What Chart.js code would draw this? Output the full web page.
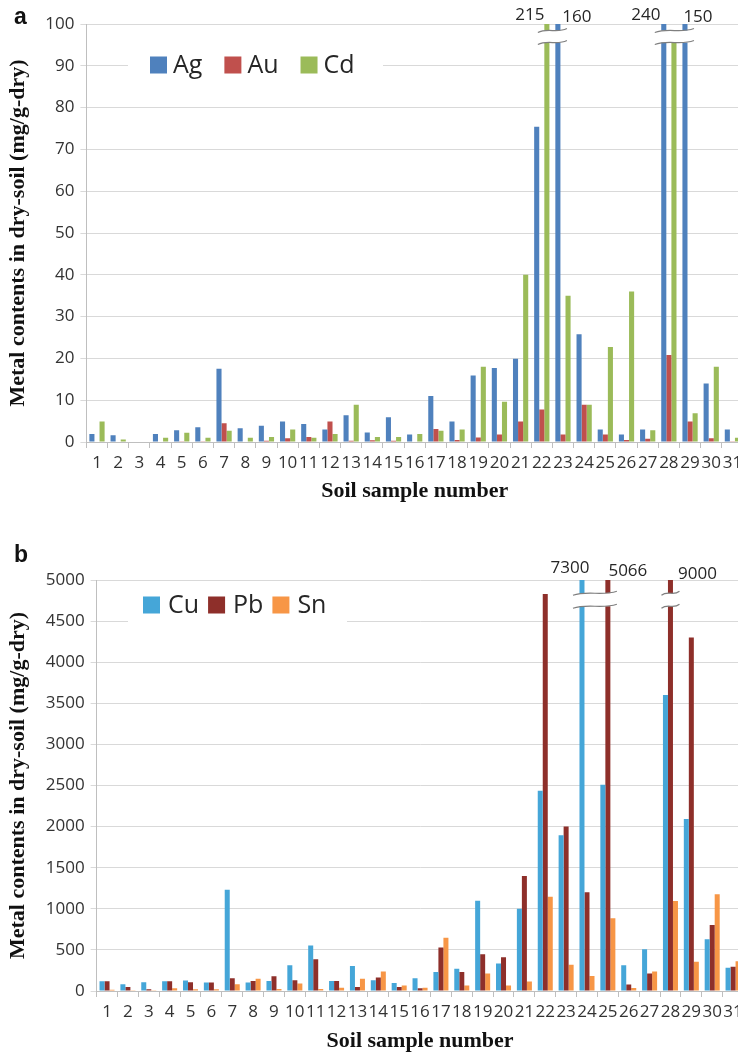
<!DOCTYPE html>
<html>
<head>
<meta charset="utf-8">
<script src="https://cdn.jsdelivr.net/npm/chart.js@4/dist/chart.umd.min.js"></script>
<style>
  body { margin: 0; width: 738px; height: 1054px; overflow: hidden; background: #fff; position: relative; }
  canvas { position: absolute; left: 0; }
  #chart-a { top: 0; }
  #chart-b { top: 510px; }
  .tag { position: absolute; font: bold 23px "Liberation Sans", Arial, sans-serif; line-height: 23px; color: #111; }
</style>
</head>
<body>
<canvas id="chart-a" width="750" height="510"></canvas>
<canvas id="chart-b" width="750" height="550"></canvas>
<div class="tag" style="left:14px; top:5px">a</div>
<div class="tag" style="left:14px; top:543px">b</div>
<script>
const samples = ['1','2','3','4','5','6','7','8','9','10','11','12','13','14','15','16',
                 '17','18','19','20','21','22','23','24','25','26','27','28','29','30','31']

// panel a (mg/g-dry)
const ag = [1.9, 1.6, 0, 1.9, 2.8, 3.5, 17.5, 3.3, 3.9, 4.9, 4.3, 3.0, 6.4, 2.3, 5.9, 1.8,
            11.0, 4.9, 15.9, 17.7, 19.9, 75.4, 160, 25.8, 3.0, 1.8, 3.0, 240, 150, 14.0, 3.0]
const au = [0, 0.1, 0, 0.1, 0.2, 0.2, 4.5, 0.1, 0.3, 0.9, 1.2, 4.9, 0.3, 0.4, 0.3, 0.1,
            3.1, 0.5, 1.1, 1.8, 4.9, 7.8, 1.8, 8.9, 1.8, 0.5, 0.8, 20.8, 4.9, 0.9, 0.2]
const cd = [4.9, 0.6, 0, 1.0, 2.2, 1.0, 2.7, 1.0, 1.2, 3.0, 1.0, 1.9, 8.9, 1.2, 1.2, 1.9,
            2.7, 3.0, 18.0, 9.6, 40.0, 215, 35.0, 8.9, 22.7, 36.0, 2.8, 96, 6.9, 18.0, 1.0]

// panel b (mg/g-dry)
const cu = [119, 82, 107, 119, 127, 102, 1232, 102, 123, 312, 553, 123, 303, 131, 98, 156,
            230, 271, 1099, 336, 1000, 2437, 1894, 7300, 2510, 312, 508, 3600, 2092, 631, 283]
const pb = [119, 49, 20, 119, 107, 102, 156, 123, 180, 131, 385, 123, 49, 164, 49, 33,
            529, 230, 447, 410, 1400, 4830, 2000, 1200, 5066, 78, 213, 9000, 4300, 804, 295]
const sn = [16, 8, 8, 33, 20, 20, 82, 148, 25, 90, 25, 41, 148, 238, 66, 41,
            648, 66, 213, 66, 115, 1147, 320, 184, 884, 37, 238, 1095, 357, 1176, 361]

const yTitle = 'Metal contents in dry-soil (mg/g-dry)'
const xTitle = 'Soil sample number'

const tickFont = { family: '"Open Sans", sans-serif', size: 17 }
const titleFont = { family: '"Liberation Serif", "Times New Roman", serif', size: 22, weight: 'bold' }

// white legend box sitting on the top gridlines
const boxLegend = {
  id: 'boxLegend',
  afterDatasetsDraw(chart, args, opts) {
    const { ctx, chartArea } = chart
    const x = chartArea.left + opts.dx, yc = chartArea.top + opts.dy
    ctx.save()
    ctx.fillStyle = '#fff'
    ctx.fillRect(x, yc - opts.h / 2, opts.w, opts.h)
    ctx.font = '25px "Open Sans", sans-serif'
    ctx.textBaseline = 'middle'
    let cx = x + opts.pad
    chart.data.datasets.forEach(ds => {
      ctx.fillStyle = ds.backgroundColor
      ctx.fillRect(cx, yc - 8.5, 17, 17)
      cx += 17 + opts.gapIn
      ctx.fillStyle = '#262626'
      ctx.fillText(ds.label, cx, yc + 1)
      cx += ctx.measureText(ds.label).width + opts.gapOut
    })
    ctx.restore()
  }
}

// axis break marks + real values for bars above the scale max
const breakMarks = {
  id: 'breakMarks',
  afterDatasetsDraw(chart, args, opts) {
    const { ctx, chartArea, scales: { y } } = chart
    const bars = []
    chart.data.datasets.forEach((ds, di) => {
      const meta = chart.getDatasetMeta(di)
      ds.data.forEach((v, i) => {
        if (v > y.max) bars.push({ x: meta.data[i].x, v })
      })
    })
    bars.sort((p, q) => p.x - q.x)
    const groups = []
    bars.forEach(b => {
      const g = groups[groups.length - 1]
      if (g && b.x - g.x1 < 35) g.x1 = b.x
      else groups.push({ x0: b.x, x1: b.x })
    })
    const yc = y.getPixelForValue(opts.at)
    ctx.save()
    groups.forEach(g => {
      const l = g.x0 - opts.pad, r = g.x1 + opts.pad, w = r - l
      ctx.fillStyle = '#fff'
      ctx.fillRect(l, yc - opts.gap / 2, w, opts.gap)
      ctx.strokeStyle = '#7f7f7f'
      ctx.lineWidth = 1.2
      ;[-opts.gap / 2, opts.gap / 2].forEach(dy => {
        ctx.beginPath()
        ctx.moveTo(l, yc + dy + 2)
        ctx.bezierCurveTo(l + w / 3, yc + dy - 3, l + 2 * w / 3, yc + dy + 3, r, yc + dy - 2)
        ctx.stroke()
      })
    })
    ctx.fillStyle = '#262626'
    ctx.font = '17px "Open Sans", sans-serif'
    ctx.textAlign = 'center'
    ctx.textBaseline = 'middle'
    bars.forEach((b, k) => {
      const [dx, dy] = opts.shift[k] || [0, -10]
      ctx.fillText(String(b.v), b.x + dx, chartArea.top + dy)
    })
    ctx.restore()
  }
}

function makeChart(id, series, colors, names, yMax, yStep, axisW, pad, legend, brk) {
  return new Chart(document.getElementById(id), {
    type: 'bar',
    data: {
      labels: samples,
      datasets: series.map((s, i) => ({
        label: names[i],
        data: s,
        backgroundColor: colors[i],
        categoryPercentage: 0.72,
        barPercentage: 1.0,
        clip: 0
      }))
    },
    options: {
      responsive: false,
      animation: false,
      layout: { padding: pad },
      plugins: {
        legend: { display: false },
        tooltip: { enabled: false },
        boxLegend: legend,
        breakMarks: brk
      },
      scales: {
        x: {
          grid: { offset: true, drawOnChartArea: false, tickLength: 6, color: '#bfbfbf' },
          border: { color: '#bfbfbf' },
          ticks: { font: tickFont, color: '#333', autoSkip: false, maxRotation: 0, minRotation: 0, padding: 5 },
          title: { display: true, text: xTitle, font: titleFont, color: '#111', padding: { top: 0, bottom: 5 } },
          afterFit: s => { s.height = pad.xh }
        },
        y: {
          min: 0, max: yMax,
          grid: { color: '#d9d9d9', tickLength: 6 },
          border: { color: '#bfbfbf' },
          ticks: { stepSize: yStep, font: tickFont, color: '#333', padding: 6, callback: v => String(v) },
          title: { display: true, text: yTitle, font: titleFont, color: '#111', padding: { top: 5, bottom: 0 } },
          afterFit: s => { s.width = axisW }
        }
      }
    },
    plugins: [boxLegend, breakMarks]
  })
}

makeChart('chart-a', [ag, au, cd], ['#4f81bd', '#c0504d', '#9bbb59'], ['Ag', 'Au', 'Cd'],
  100, 10, 86.4, { top: 24, right: 7, bottom: 0, left: 0, xh: 68 },
  { dx: 41.6, dy: 41, w: 255, h: 40, pad: 22, gapIn: 6, gapOut: 22 },
  { at: 97, gap: 12, pad: 9, shift: [[-17, -9], [19, -7], [-18, -9], [13, -7]] })

makeChart('chart-b', [cu, pb, sn], ['#45a6d8', '#8e2f2a', '#f79646'], ['Cu', 'Pb', 'Sn'],
  5000, 500, 96.6, { top: 70, right: 6.5, bottom: 0, left: 0, xh: 69 },
  { dx: 31.4, dy: 25, w: 219, h: 40, pad: 15, gapIn: 8, gapOut: 9 },
  { at: 4760, gap: 13, pad: 9, shift: [[-12, -12], [20, -9], [27, -6]] })
</script>
</body>
</html>
